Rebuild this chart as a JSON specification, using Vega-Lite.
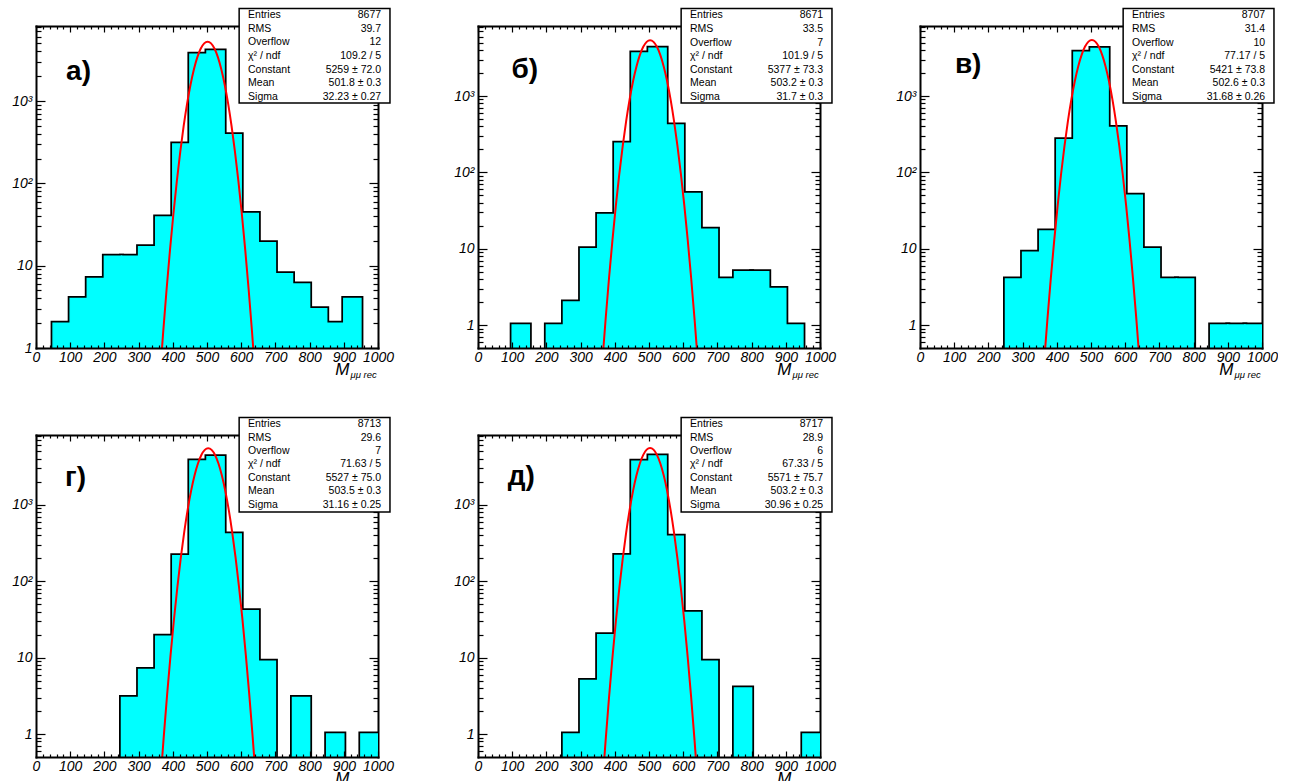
{
"$schema": "https://vega.github.io/schema/vega-lite/v6.json",
"background": "white",
"padding": {"left": 11, "top": 7, "right": 0, "bottom": 0},
"columns": 3,
"spacing": {"row": 87, "column": 100},
"bounds": "flush",
"config": {
  "view": {"stroke": null},
  "font": "Liberation Sans",
  "axis": {"grid": false, "domain": false, "labels": false, "tickColor": "black", "tickWidth": 1.2, "labelFont": "Liberation Sans", "labelFontSize": 14, "labelFontStyle": "italic", "labelColor": "black", "labelFlush": false, "labelOverlap": false, "domainColor": "black", "domainWidth": 2, "domainCap": "square", "titleFont": "Liberation Sans", "titleColor": "black", "titleFontWeight": "normal", "titleFontStyle": "italic"}
},
"datasets": {
"h": [
{"p":"a","lo":50,"hi":100,"n":2},{"p":"a","lo":100,"hi":150,"n":4},{"p":"a","lo":150,"hi":200,"n":7},{"p":"a","lo":200,"hi":250,"n":13},{"p":"a","lo":250,"hi":300,"n":13},{"p":"a","lo":300,"hi":350,"n":17},{"p":"a","lo":350,"hi":400,"n":39},{"p":"a","lo":400,"hi":450,"n":300},{"p":"a","lo":450,"hi":500,"n":3700},{"p":"a","lo":500,"hi":550,"n":4050},{"p":"a","lo":550,"hi":600,"n":390},{"p":"a","lo":600,"hi":650,"n":43},{"p":"a","lo":650,"hi":700,"n":19},{"p":"a","lo":700,"hi":750,"n":8},{"p":"a","lo":750,"hi":800,"n":6},{"p":"a","lo":800,"hi":850,"n":3},{"p":"a","lo":850,"hi":900,"n":2},{"p":"a","lo":900,"hi":950,"n":4},
{"p":"b","lo":100,"hi":150,"n":1},{"p":"b","lo":200,"hi":250,"n":1},{"p":"b","lo":250,"hi":300,"n":2},{"p":"b","lo":300,"hi":350,"n":10},{"p":"b","lo":350,"hi":400,"n":28},{"p":"b","lo":400,"hi":450,"n":240},{"p":"b","lo":450,"hi":500,"n":3660},{"p":"b","lo":500,"hi":550,"n":4210},{"p":"b","lo":550,"hi":600,"n":417},{"p":"b","lo":600,"hi":650,"n":53},{"p":"b","lo":650,"hi":700,"n":18},{"p":"b","lo":700,"hi":750,"n":4},{"p":"b","lo":750,"hi":800,"n":5},{"p":"b","lo":800,"hi":850,"n":5},{"p":"b","lo":850,"hi":900,"n":3},{"p":"b","lo":900,"hi":950,"n":1},
{"p":"c","lo":250,"hi":300,"n":4},{"p":"c","lo":300,"hi":350,"n":9},{"p":"c","lo":350,"hi":400,"n":17},{"p":"c","lo":400,"hi":450,"n":268},{"p":"c","lo":450,"hi":500,"n":3750},{"p":"c","lo":500,"hi":550,"n":4200},{"p":"c","lo":550,"hi":600,"n":388},{"p":"c","lo":600,"hi":650,"n":50},{"p":"c","lo":650,"hi":700,"n":10},{"p":"c","lo":700,"hi":750,"n":4},{"p":"c","lo":750,"hi":800,"n":4},{"p":"c","lo":850,"hi":900,"n":1},{"p":"c","lo":900,"hi":950,"n":1},{"p":"c","lo":950,"hi":1000,"n":1},
{"p":"d","lo":250,"hi":300,"n":3},{"p":"d","lo":300,"hi":350,"n":7},{"p":"d","lo":350,"hi":400,"n":19},{"p":"d","lo":400,"hi":450,"n":215},{"p":"d","lo":450,"hi":500,"n":3750},{"p":"d","lo":500,"hi":550,"n":4260},{"p":"d","lo":550,"hi":600,"n":415},{"p":"d","lo":600,"hi":650,"n":41},{"p":"d","lo":650,"hi":700,"n":9},{"p":"d","lo":750,"hi":800,"n":3},{"p":"d","lo":850,"hi":900,"n":1},{"p":"d","lo":950,"hi":1000,"n":1},
{"p":"e","lo":250,"hi":300,"n":1},{"p":"e","lo":300,"hi":350,"n":5},{"p":"e","lo":350,"hi":400,"n":20},{"p":"e","lo":400,"hi":450,"n":218},{"p":"e","lo":450,"hi":500,"n":3730},{"p":"e","lo":500,"hi":550,"n":4350},{"p":"e","lo":550,"hi":600,"n":387},{"p":"e","lo":600,"hi":650,"n":39},{"p":"e","lo":650,"hi":700,"n":9},{"p":"e","lo":750,"hi":800,"n":4},{"p":"e","lo":950,"hi":1000,"n":1}
],
"fit": [
{"p":"a","m":351.8,"f":0.1041},{"p":"a","m":361.8,"f":0.4205},{"p":"a","m":371.8,"f":1.542},{"p":"a","m":381.8,"f":5.137},{"p":"a","m":391.8,"f":15.54},{"p":"a","m":401.8,"f":42.71},{"p":"a","m":411.8,"f":106.6},{"p":"a","m":421.8,"f":241.6},{"p":"a","m":431.8,"f":497.3},{"p":"a","m":441.8,"f":929.8},{"p":"a","m":451.8,"f":1579},{"p":"a","m":461.8,"f":2434},{"p":"a","m":471.8,"f":3410},{"p":"a","m":481.8,"f":4338},{"p":"a","m":491.8,"f":5012},{"p":"a","m":501.8,"f":5259},{"p":"a","m":511.8,"f":5012},{"p":"a","m":521.8,"f":4338},{"p":"a","m":531.8,"f":3410},{"p":"a","m":541.8,"f":2434},{"p":"a","m":551.8,"f":1579},{"p":"a","m":561.8,"f":929.8},{"p":"a","m":571.8,"f":497.3},{"p":"a","m":581.8,"f":241.6},{"p":"a","m":591.8,"f":106.6},{"p":"a","m":601.8,"f":42.71},{"p":"a","m":611.8,"f":15.54},{"p":"a","m":621.8,"f":5.137},{"p":"a","m":631.8,"f":1.542},{"p":"a","m":641.8,"f":0.4205},{"p":"a","m":651.8,"f":0.1041},
{"p":"b","m":353.2,"f":0.0739},{"p":"b","m":363.2,"f":0.3128},{"p":"b","m":373.2,"f":1.198},{"p":"b","m":383.2,"f":4.157},{"p":"b","m":393.2,"f":13.06},{"p":"b","m":403.2,"f":37.12},{"p":"b","m":413.2,"f":95.55},{"p":"b","m":423.2,"f":222.6},{"p":"b","m":433.2,"f":469.6},{"p":"b","m":443.2,"f":896.8},{"p":"b","m":453.2,"f":1550},{"p":"b","m":463.2,"f":2425},{"p":"b","m":473.2,"f":3436},{"p":"b","m":483.2,"f":4407},{"p":"b","m":493.2,"f":5116},{"p":"b","m":503.2,"f":5377},{"p":"b","m":513.2,"f":5116},{"p":"b","m":523.2,"f":4407},{"p":"b","m":533.2,"f":3436},{"p":"b","m":543.2,"f":2425},{"p":"b","m":553.2,"f":1550},{"p":"b","m":563.2,"f":896.8},{"p":"b","m":573.2,"f":469.6},{"p":"b","m":583.2,"f":222.6},{"p":"b","m":593.2,"f":95.55},{"p":"b","m":603.2,"f":37.12},{"p":"b","m":613.2,"f":13.06},{"p":"b","m":623.2,"f":4.157},{"p":"b","m":633.2,"f":1.198},{"p":"b","m":643.2,"f":0.3128},{"p":"b","m":653.2,"f":0.0739},
{"p":"c","m":352.6,"f":0.0734},{"p":"c","m":362.6,"f":0.3114},{"p":"c","m":372.6,"f":1.195},{"p":"c","m":382.6,"f":4.153},{"p":"c","m":392.6,"f":13.06},{"p":"c","m":402.6,"f":37.19},{"p":"c","m":412.6,"f":95.83},{"p":"c","m":422.6,"f":223.5},{"p":"c","m":432.6,"f":471.9},{"p":"c","m":442.6,"f":901.9},{"p":"c","m":452.6,"f":1560},{"p":"c","m":462.6,"f":2443},{"p":"c","m":472.6,"f":3462},{"p":"c","m":482.6,"f":4442},{"p":"c","m":492.6,"f":5157},{"p":"c","m":502.6,"f":5421},{"p":"c","m":512.6,"f":5157},{"p":"c","m":522.6,"f":4442},{"p":"c","m":532.6,"f":3462},{"p":"c","m":542.6,"f":2443},{"p":"c","m":552.6,"f":1560},{"p":"c","m":562.6,"f":901.9},{"p":"c","m":572.6,"f":471.9},{"p":"c","m":582.6,"f":223.5},{"p":"c","m":592.6,"f":95.83},{"p":"c","m":602.6,"f":37.19},{"p":"c","m":612.6,"f":13.06},{"p":"c","m":622.6,"f":4.153},{"p":"c","m":632.6,"f":1.195},{"p":"c","m":642.6,"f":0.3114},{"p":"c","m":652.6,"f":0.0734},
{"p":"d","m":353.5,"f":0.0513},{"p":"d","m":363.5,"f":0.2286},{"p":"d","m":373.5,"f":0.9182},{"p":"d","m":383.5,"f":3.327},{"p":"d","m":393.5,"f":10.87},{"p":"d","m":403.5,"f":32.07},{"p":"d","m":413.5,"f":85.3},{"p":"d","m":423.5,"f":204.7},{"p":"d","m":433.5,"f":443.2},{"p":"d","m":443.5,"f":865.7},{"p":"d","m":453.5,"f":1525},{"p":"d","m":463.5,"f":2425},{"p":"d","m":473.5,"f":3477},{"p":"d","m":483.5,"f":4498},{"p":"d","m":493.5,"f":5250},{"p":"d","m":503.5,"f":5527},{"p":"d","m":513.5,"f":5250},{"p":"d","m":523.5,"f":4498},{"p":"d","m":533.5,"f":3477},{"p":"d","m":543.5,"f":2425},{"p":"d","m":553.5,"f":1525},{"p":"d","m":563.5,"f":865.7},{"p":"d","m":573.5,"f":443.2},{"p":"d","m":583.5,"f":204.7},{"p":"d","m":593.5,"f":85.3},{"p":"d","m":603.5,"f":32.07},{"p":"d","m":613.5,"f":10.87},{"p":"d","m":623.5,"f":3.327},{"p":"d","m":633.5,"f":0.9182},{"p":"d","m":643.5,"f":0.2286},{"p":"d","m":653.5,"f":0.0513},
{"p":"e","m":353.2,"f":0.0445},{"p":"e","m":363.2,"f":0.2021},{"p":"e","m":373.2,"f":0.8267},{"p":"e","m":383.2,"f":3.046},{"p":"e","m":393.2,"f":10.11},{"p":"e","m":403.2,"f":30.23},{"p":"e","m":413.2,"f":81.45},{"p":"e","m":423.2,"f":197.7},{"p":"e","m":433.2,"f":432.4},{"p":"e","m":443.2,"f":851.9},{"p":"e","m":453.2,"f":1512},{"p":"e","m":463.2,"f":2418},{"p":"e","m":473.2,"f":3484},{"p":"e","m":483.2,"f":4522},{"p":"e","m":493.2,"f":5288},{"p":"e","m":503.2,"f":5571},{"p":"e","m":513.2,"f":5288},{"p":"e","m":523.2,"f":4522},{"p":"e","m":533.2,"f":3484},{"p":"e","m":543.2,"f":2418},{"p":"e","m":553.2,"f":1512},{"p":"e","m":563.2,"f":851.9},{"p":"e","m":573.2,"f":432.4},{"p":"e","m":583.2,"f":197.7},{"p":"e","m":593.2,"f":81.45},{"p":"e","m":603.2,"f":30.23},{"p":"e","m":613.2,"f":10.11},{"p":"e","m":623.2,"f":3.046},{"p":"e","m":633.2,"f":0.8267},{"p":"e","m":643.2,"f":0.2021},{"p":"e","m":653.2,"f":0.0445}
],
"stats": [
{"p":"a","lab":"а)","names":"Entries\nRMS\nOverflow\nχ² / ndf\nConstant\nMean\nSigma","vals":"8677\n39.7\n12\n109.2 / 5\n5259 ± 72.0\n501.8 ± 0.3\n32.23 ± 0.27"},
{"p":"b","lab":"б)","names":"Entries\nRMS\nOverflow\nχ² / ndf\nConstant\nMean\nSigma","vals":"8671\n33.5\n7\n101.9 / 5\n5377 ± 73.3\n503.2 ± 0.3\n31.7 ± 0.3"},
{"p":"c","lab":"в)","names":"Entries\nRMS\nOverflow\nχ² / ndf\nConstant\nMean\nSigma","vals":"8707\n31.4\n10\n77.17 / 5\n5421 ± 73.8\n502.6 ± 0.3\n31.68 ± 0.26"},
{"p":"d","lab":"г)","names":"Entries\nRMS\nOverflow\nχ² / ndf\nConstant\nMean\nSigma","vals":"8713\n29.6\n7\n71.63 / 5\n5527 ± 75.0\n503.5 ± 0.3\n31.16 ± 0.25"},
{"p":"e","lab":"д)","names":"Entries\nRMS\nOverflow\nχ² / ndf\nConstant\nMean\nSigma","vals":"8717\n28.9\n6\n67.33 / 5\n5571 ± 75.7\n503.2 ± 0.3\n30.96 ± 0.25"}
]
},
"concat": [
{"width": 342, "height": 322, "resolve": {"axis": {"x": "independent", "y": "independent"}},
 "layer": [
  {"data": {"name": "h"}, "transform": [{"filter": "datum.p == 'a'"}], "mark": {"type": "rect", "fill": "#00FFFF", "stroke": "black", "strokeWidth": 5, "clip": true},
   "encoding": {
    "x": {"field": "lo", "type": "quantitative", "scale": {"domain": [0, 1000], "nice": false, "zero": false}, "axis": {"orient": "bottom", "values": [0,100,200,300,400,500,600,700,800,900,1000], "format": "d", "tickSize": -6, "labels": true, "labelPadding": 8, "domain": true, "zindex": 1, "title": "M", "titleFontSize": 17, "titleAlign": "right", "titleBaseline": "alphabetic", "titleX": 313, "titleY": 26}},
    "x2": {"field": "hi"},
    "y": {"field": "n", "type": "quantitative", "scale": {"type": "log", "domain": [1, 8150], "nice": false}, "axis": {"orient": "left", "values": [1,10,100,1000], "tickSize": -9, "labels": true, "labelPadding": 13, "labelExpr": "datum.value == 1 ? '1' : datum.value == 10 ? '10' : datum.value == 100 ? '10²' : '10³'", "domain": true, "zindex": 1, "title": null}},
    "y2": {"datum": 1}
   }},
  {"data": {"name": "h"}, "transform": [{"filter": "datum.p == 'a'"}], "mark": {"type": "rect", "fill": "#00FFFF", "stroke": "#00FFFF", "strokeWidth": 1.5, "clip": true},
   "encoding": {
    "x": {"field": "lo", "type": "quantitative", "axis": {"orient": "bottom", "values": [20,40,60,80,120,140,160,180,220,240,260,280,320,340,360,380,420,440,460,480,520,540,560,580,620,640,660,680,720,740,760,780,820,840,860,880,920,940,960,980], "tickSize": -3, "zindex": 1, "title": "μμ rec", "titleFontSize": 9.5, "titleAlign": "left", "titleBaseline": "alphabetic", "titleX": 314, "titleY": 29}},
    "x2": {"field": "hi"},
    "y": {"field": "n", "type": "quantitative", "axis": {"orient": "left", "values": [2,3,4,5,6,7,8,9,20,30,40,50,60,70,80,90,200,300,400,500,600,700,800,900,2000,3000,4000,5000,6000,7000,8000], "tickSize": -5, "zindex": 1, "title": null}},
    "y2": {"datum": 1}
   }},
  {"data": {"name": "fit"}, "transform": [{"filter": "datum.p == 'a'"}], "mark": {"type": "line", "color": "#FF0000", "strokeWidth": 2, "clip": true, "interpolate": "monotone"},
   "encoding": {
    "x": {"field": "m", "type": "quantitative", "axis": {"orient": "top", "values": [0,100,200,300,400,500,600,700,800,900,1000], "tickSize": -6, "domain": true, "zindex": 0, "title": null}},
    "y": {"field": "f", "type": "quantitative", "axis": {"orient": "right", "values": [1,10,100,1000], "tickSize": -9, "domain": true, "zindex": 0, "title": null}}
   }},
  {"data": {"name": "stats"}, "transform": [{"filter": "datum.p == 'a'"}], "mark": {"type": "rect", "fill": "white", "stroke": "black", "strokeWidth": 1.5},
   "encoding": {
    "x": {"datum": 594, "type": "quantitative", "axis": {"orient": "top", "values": [20,40,60,80,120,140,160,180,220,240,260,280,320,340,360,380,420,440,460,480,520,540,560,580,620,640,660,680,720,740,760,780,820,840,860,880,920,940,960,980], "tickSize": -3, "zindex": 0, "title": null}},
    "x2": {"datum": 1035},
    "y": {"datum": 13300, "type": "quantitative", "axis": {"orient": "right", "values": [2,3,4,5,6,7,8,9,20,30,40,50,60,70,80,90,200,300,400,500,600,700,800,900,2000,3000,4000,5000,6000,7000,8000], "tickSize": -5, "zindex": 0, "title": null}},
    "y2": {"datum": 946}
   }},
  {"data": {"name": "stats"}, "transform": [{"filter": "datum.p == 'a'"}], "mark": {"type": "text", "align": "left", "baseline": "middle", "fontSize": 10.5, "lineHeight": 13.6, "lineBreak": "\n", "color": "black"},
   "encoding": {"x": {"datum": 620, "type": "quantitative", "axis": null}, "y": {"datum": 10990, "type": "quantitative", "axis": null}, "text": {"field": "names"}}},
  {"data": {"name": "stats"}, "transform": [{"filter": "datum.p == 'a'"}], "mark": {"type": "text", "align": "right", "baseline": "middle", "fontSize": 10.5, "lineHeight": 13.6, "lineBreak": "\n", "color": "black"},
   "encoding": {"x": {"datum": 1009, "type": "quantitative", "axis": null}, "y": {"datum": 10990, "type": "quantitative", "axis": null}, "text": {"field": "vals"}}},
  {"data": {"name": "stats"}, "transform": [{"filter": "datum.p == 'a'"}], "mark": {"type": "text", "align": "left", "baseline": "alphabetic", "fontSize": 28, "fontWeight": "bold", "color": "black"},
   "encoding": {"x": {"datum": 88, "type": "quantitative", "axis": null}, "y": {"datum": 1800, "type": "quantitative", "axis": null}, "text": {"field": "lab"}}}
 ]},
{"width": 342, "height": 322, "resolve": {"axis": {"x": "independent", "y": "independent"}},
 "layer": [
  {"data": {"name": "h"}, "transform": [{"filter": "datum.p == 'b'"}], "mark": {"type": "rect", "fill": "#00FFFF", "stroke": "black", "strokeWidth": 5, "clip": true},
   "encoding": {
    "x": {"field": "lo", "type": "quantitative", "scale": {"domain": [0, 1000], "nice": false, "zero": false}, "axis": {"orient": "bottom", "values": [0,100,200,300,400,500,600,700,800,900,1000], "format": "d", "tickSize": -6, "labels": true, "labelPadding": 8, "domain": true, "zindex": 1, "title": "M", "titleFontSize": 17, "titleAlign": "right", "titleBaseline": "alphabetic", "titleX": 313, "titleY": 26}},
    "x2": {"field": "hi"},
    "y": {"field": "n", "type": "quantitative", "scale": {"type": "log", "domain": [0.5, 8260], "nice": false}, "axis": {"orient": "left", "values": [1,10,100,1000], "tickSize": -9, "labels": true, "labelPadding": 13, "labelExpr": "datum.value == 1 ? '1' : datum.value == 10 ? '10' : datum.value == 100 ? '10²' : '10³'", "domain": true, "zindex": 1, "title": null}},
    "y2": {"datum": 0.5}
   }},
  {"data": {"name": "h"}, "transform": [{"filter": "datum.p == 'b'"}], "mark": {"type": "rect", "fill": "#00FFFF", "stroke": "#00FFFF", "strokeWidth": 1.5, "clip": true},
   "encoding": {
    "x": {"field": "lo", "type": "quantitative", "axis": {"orient": "bottom", "values": [20,40,60,80,120,140,160,180,220,240,260,280,320,340,360,380,420,440,460,480,520,540,560,580,620,640,660,680,720,740,760,780,820,840,860,880,920,940,960,980], "tickSize": -3, "zindex": 1, "title": "μμ rec", "titleFontSize": 9.5, "titleAlign": "left", "titleBaseline": "alphabetic", "titleX": 314, "titleY": 29}},
    "x2": {"field": "hi"},
    "y": {"field": "n", "type": "quantitative", "axis": {"orient": "left", "values": [0.6,0.7,0.8,0.9,2,3,4,5,6,7,8,9,20,30,40,50,60,70,80,90,200,300,400,500,600,700,800,900,2000,3000,4000,5000,6000,7000,8000], "tickSize": -5, "zindex": 1, "title": null}},
    "y2": {"datum": 0.5}
   }},
  {"data": {"name": "fit"}, "transform": [{"filter": "datum.p == 'b'"}], "mark": {"type": "line", "color": "#FF0000", "strokeWidth": 2, "clip": true, "interpolate": "monotone"},
   "encoding": {
    "x": {"field": "m", "type": "quantitative", "axis": {"orient": "top", "values": [0,100,200,300,400,500,600,700,800,900,1000], "tickSize": -6, "domain": true, "zindex": 0, "title": null}},
    "y": {"field": "f", "type": "quantitative", "axis": {"orient": "right", "values": [1,10,100,1000], "tickSize": -9, "domain": true, "zindex": 0, "title": null}}
   }},
  {"data": {"name": "stats"}, "transform": [{"filter": "datum.p == 'b'"}], "mark": {"type": "rect", "fill": "white", "stroke": "black", "strokeWidth": 1.5},
   "encoding": {
    "x": {"datum": 594, "type": "quantitative", "axis": {"orient": "top", "values": [20,40,60,80,120,140,160,180,220,240,260,280,320,340,360,380,420,440,460,480,520,540,560,580,620,640,660,680,720,740,760,780,820,840,860,880,920,940,960,980], "tickSize": -3, "zindex": 0, "title": null}},
    "x2": {"datum": 1035},
    "y": {"datum": 14000, "type": "quantitative", "axis": {"orient": "right", "values": [0.6,0.7,0.8,0.9,2,3,4,5,6,7,8,9,20,30,40,50,60,70,80,90,200,300,400,500,600,700,800,900,2000,3000,4000,5000,6000,7000,8000], "tickSize": -5, "zindex": 0, "title": null}},
    "y2": {"datum": 809.5}
   }},
  {"data": {"name": "stats"}, "transform": [{"filter": "datum.p == 'b'"}], "mark": {"type": "text", "align": "left", "baseline": "middle", "fontSize": 10.5, "lineHeight": 13.6, "lineBreak": "\n", "color": "black"},
   "encoding": {"x": {"datum": 620, "type": "quantitative", "axis": null}, "y": {"datum": 11400, "type": "quantitative", "axis": null}, "text": {"field": "names"}}},
  {"data": {"name": "stats"}, "transform": [{"filter": "datum.p == 'b'"}], "mark": {"type": "text", "align": "right", "baseline": "middle", "fontSize": 10.5, "lineHeight": 13.6, "lineBreak": "\n", "color": "black"},
   "encoding": {"x": {"datum": 1009, "type": "quantitative", "axis": null}, "y": {"datum": 11400, "type": "quantitative", "axis": null}, "text": {"field": "vals"}}},
  {"data": {"name": "stats"}, "transform": [{"filter": "datum.p == 'b'"}], "mark": {"type": "text", "align": "left", "baseline": "alphabetic", "fontSize": 28, "fontWeight": "bold", "color": "black"},
   "encoding": {"x": {"datum": 98, "type": "quantitative", "axis": null}, "y": {"datum": 1721, "type": "quantitative", "axis": null}, "text": {"field": "lab"}}}
 ]},
{"width": 342, "height": 322, "resolve": {"axis": {"x": "independent", "y": "independent"}},
 "layer": [
  {"data": {"name": "h"}, "transform": [{"filter": "datum.p == 'c'"}], "mark": {"type": "rect", "fill": "#00FFFF", "stroke": "black", "strokeWidth": 5, "clip": true},
   "encoding": {
    "x": {"field": "lo", "type": "quantitative", "scale": {"domain": [0, 1000], "nice": false, "zero": false}, "axis": {"orient": "bottom", "values": [0,100,200,300,400,500,600,700,800,900,1000], "format": "d", "tickSize": -6, "labels": true, "labelPadding": 8, "domain": true, "zindex": 1, "title": "M", "titleFontSize": 17, "titleAlign": "right", "titleBaseline": "alphabetic", "titleX": 313, "titleY": 26}},
    "x2": {"field": "hi"},
    "y": {"field": "n", "type": "quantitative", "scale": {"type": "log", "domain": [0.5, 8260], "nice": false}, "axis": {"orient": "left", "values": [1,10,100,1000], "tickSize": -9, "labels": true, "labelPadding": 13, "labelExpr": "datum.value == 1 ? '1' : datum.value == 10 ? '10' : datum.value == 100 ? '10²' : '10³'", "domain": true, "zindex": 1, "title": null}},
    "y2": {"datum": 0.5}
   }},
  {"data": {"name": "h"}, "transform": [{"filter": "datum.p == 'c'"}], "mark": {"type": "rect", "fill": "#00FFFF", "stroke": "#00FFFF", "strokeWidth": 1.5, "clip": true},
   "encoding": {
    "x": {"field": "lo", "type": "quantitative", "axis": {"orient": "bottom", "values": [20,40,60,80,120,140,160,180,220,240,260,280,320,340,360,380,420,440,460,480,520,540,560,580,620,640,660,680,720,740,760,780,820,840,860,880,920,940,960,980], "tickSize": -3, "zindex": 1, "title": "μμ rec", "titleFontSize": 9.5, "titleAlign": "left", "titleBaseline": "alphabetic", "titleX": 314, "titleY": 29}},
    "x2": {"field": "hi"},
    "y": {"field": "n", "type": "quantitative", "axis": {"orient": "left", "values": [0.6,0.7,0.8,0.9,2,3,4,5,6,7,8,9,20,30,40,50,60,70,80,90,200,300,400,500,600,700,800,900,2000,3000,4000,5000,6000,7000,8000], "tickSize": -5, "zindex": 1, "title": null}},
    "y2": {"datum": 0.5}
   }},
  {"data": {"name": "fit"}, "transform": [{"filter": "datum.p == 'c'"}], "mark": {"type": "line", "color": "#FF0000", "strokeWidth": 2, "clip": true, "interpolate": "monotone"},
   "encoding": {
    "x": {"field": "m", "type": "quantitative", "axis": {"orient": "top", "values": [0,100,200,300,400,500,600,700,800,900,1000], "tickSize": -6, "domain": true, "zindex": 0, "title": null}},
    "y": {"field": "f", "type": "quantitative", "axis": {"orient": "right", "values": [1,10,100,1000], "tickSize": -9, "domain": true, "zindex": 0, "title": null}}
   }},
  {"data": {"name": "stats"}, "transform": [{"filter": "datum.p == 'c'"}], "mark": {"type": "rect", "fill": "white", "stroke": "black", "strokeWidth": 1.5},
   "encoding": {
    "x": {"datum": 594, "type": "quantitative", "axis": {"orient": "top", "values": [20,40,60,80,120,140,160,180,220,240,260,280,320,340,360,380,420,440,460,480,520,540,560,580,620,640,660,680,720,740,760,780,820,840,860,880,920,940,960,980], "tickSize": -3, "zindex": 0, "title": null}},
    "x2": {"datum": 1035},
    "y": {"datum": 14000, "type": "quantitative", "axis": {"orient": "right", "values": [0.6,0.7,0.8,0.9,2,3,4,5,6,7,8,9,20,30,40,50,60,70,80,90,200,300,400,500,600,700,800,900,2000,3000,4000,5000,6000,7000,8000], "tickSize": -5, "zindex": 0, "title": null}},
    "y2": {"datum": 809.5}
   }},
  {"data": {"name": "stats"}, "transform": [{"filter": "datum.p == 'c'"}], "mark": {"type": "text", "align": "left", "baseline": "middle", "fontSize": 10.5, "lineHeight": 13.6, "lineBreak": "\n", "color": "black"},
   "encoding": {"x": {"datum": 620, "type": "quantitative", "axis": null}, "y": {"datum": 11400, "type": "quantitative", "axis": null}, "text": {"field": "names"}}},
  {"data": {"name": "stats"}, "transform": [{"filter": "datum.p == 'c'"}], "mark": {"type": "text", "align": "right", "baseline": "middle", "fontSize": 10.5, "lineHeight": 13.6, "lineBreak": "\n", "color": "black"},
   "encoding": {"x": {"datum": 1009, "type": "quantitative", "axis": null}, "y": {"datum": 11400, "type": "quantitative", "axis": null}, "text": {"field": "vals"}}},
  {"data": {"name": "stats"}, "transform": [{"filter": "datum.p == 'c'"}], "mark": {"type": "text", "align": "left", "baseline": "alphabetic", "fontSize": 28, "fontWeight": "bold", "color": "black"},
   "encoding": {"x": {"datum": 102, "type": "quantitative", "axis": null}, "y": {"datum": 2001, "type": "quantitative", "axis": null}, "text": {"field": "lab"}}}
 ]},
{"width": 342, "height": 322, "resolve": {"axis": {"x": "independent", "y": "independent"}},
 "layer": [
  {"data": {"name": "h"}, "transform": [{"filter": "datum.p == 'd'"}], "mark": {"type": "rect", "fill": "#00FFFF", "stroke": "black", "strokeWidth": 5, "clip": true},
   "encoding": {
    "x": {"field": "lo", "type": "quantitative", "scale": {"domain": [0, 1000], "nice": false, "zero": false}, "axis": {"orient": "bottom", "values": [0,100,200,300,400,500,600,700,800,900,1000], "format": "d", "tickSize": -6, "labels": true, "labelPadding": 8, "domain": true, "zindex": 1, "title": "M", "titleFontSize": 17, "titleAlign": "right", "titleBaseline": "alphabetic", "titleX": 313, "titleY": 26}},
    "x2": {"field": "hi"},
    "y": {"field": "n", "type": "quantitative", "scale": {"type": "log", "domain": [0.5, 8220], "nice": false}, "axis": {"orient": "left", "values": [1,10,100,1000], "tickSize": -9, "labels": true, "labelPadding": 13, "labelExpr": "datum.value == 1 ? '1' : datum.value == 10 ? '10' : datum.value == 100 ? '10²' : '10³'", "domain": true, "zindex": 1, "title": null}},
    "y2": {"datum": 0.5}
   }},
  {"data": {"name": "h"}, "transform": [{"filter": "datum.p == 'd'"}], "mark": {"type": "rect", "fill": "#00FFFF", "stroke": "#00FFFF", "strokeWidth": 1.5, "clip": true},
   "encoding": {
    "x": {"field": "lo", "type": "quantitative", "axis": {"orient": "bottom", "values": [20,40,60,80,120,140,160,180,220,240,260,280,320,340,360,380,420,440,460,480,520,540,560,580,620,640,660,680,720,740,760,780,820,840,860,880,920,940,960,980], "tickSize": -3, "zindex": 1, "title": "μμ rec", "titleFontSize": 9.5, "titleAlign": "left", "titleBaseline": "alphabetic", "titleX": 314, "titleY": 29}},
    "x2": {"field": "hi"},
    "y": {"field": "n", "type": "quantitative", "axis": {"orient": "left", "values": [0.6,0.7,0.8,0.9,2,3,4,5,6,7,8,9,20,30,40,50,60,70,80,90,200,300,400,500,600,700,800,900,2000,3000,4000,5000,6000,7000,8000], "tickSize": -5, "zindex": 1, "title": null}},
    "y2": {"datum": 0.5}
   }},
  {"data": {"name": "fit"}, "transform": [{"filter": "datum.p == 'd'"}], "mark": {"type": "line", "color": "#FF0000", "strokeWidth": 2, "clip": true, "interpolate": "monotone"},
   "encoding": {
    "x": {"field": "m", "type": "quantitative", "axis": {"orient": "top", "values": [0,100,200,300,400,500,600,700,800,900,1000], "tickSize": -6, "domain": true, "zindex": 0, "title": null}},
    "y": {"field": "f", "type": "quantitative", "axis": {"orient": "right", "values": [1,10,100,1000], "tickSize": -9, "domain": true, "zindex": 0, "title": null}}
   }},
  {"data": {"name": "stats"}, "transform": [{"filter": "datum.p == 'd'"}], "mark": {"type": "rect", "fill": "white", "stroke": "black", "strokeWidth": 1.5},
   "encoding": {
    "x": {"datum": 594, "type": "quantitative", "axis": {"orient": "top", "values": [20,40,60,80,120,140,160,180,220,240,260,280,320,340,360,380,420,440,460,480,520,540,560,580,620,640,660,680,720,740,760,780,820,840,860,880,920,940,960,980], "tickSize": -3, "zindex": 0, "title": null}},
    "x2": {"datum": 1035},
    "y": {"datum": 13930, "type": "quantitative", "axis": {"orient": "right", "values": [0.6,0.7,0.8,0.9,2,3,4,5,6,7,8,9,20,30,40,50,60,70,80,90,200,300,400,500,600,700,800,900,2000,3000,4000,5000,6000,7000,8000], "tickSize": -5, "zindex": 0, "title": null}},
    "y2": {"datum": 806.8}
   }},
  {"data": {"name": "stats"}, "transform": [{"filter": "datum.p == 'd'"}], "mark": {"type": "text", "align": "left", "baseline": "middle", "fontSize": 10.5, "lineHeight": 13.4, "lineBreak": "\n", "color": "black"},
   "encoding": {"x": {"datum": 620, "type": "quantitative", "axis": null}, "y": {"datum": 11350, "type": "quantitative", "axis": null}, "text": {"field": "names"}}},
  {"data": {"name": "stats"}, "transform": [{"filter": "datum.p == 'd'"}], "mark": {"type": "text", "align": "right", "baseline": "middle", "fontSize": 10.5, "lineHeight": 13.4, "lineBreak": "\n", "color": "black"},
   "encoding": {"x": {"datum": 1009, "type": "quantitative", "axis": null}, "y": {"datum": 11350, "type": "quantitative", "axis": null}, "text": {"field": "vals"}}},
  {"data": {"name": "stats"}, "transform": [{"filter": "datum.p == 'd'"}], "mark": {"type": "text", "align": "left", "baseline": "alphabetic", "fontSize": 28, "fontWeight": "bold", "color": "black"},
   "encoding": {"x": {"datum": 85, "type": "quantitative", "axis": null}, "y": {"datum": 1767, "type": "quantitative", "axis": null}, "text": {"field": "lab"}}}
 ]},
{"width": 342, "height": 322, "resolve": {"axis": {"x": "independent", "y": "independent"}},
 "layer": [
  {"data": {"name": "h"}, "transform": [{"filter": "datum.p == 'e'"}], "mark": {"type": "rect", "fill": "#00FFFF", "stroke": "black", "strokeWidth": 5, "clip": true},
   "encoding": {
    "x": {"field": "lo", "type": "quantitative", "scale": {"domain": [0, 1000], "nice": false, "zero": false}, "axis": {"orient": "bottom", "values": [0,100,200,300,400,500,600,700,800,900,1000], "format": "d", "tickSize": -6, "labels": true, "labelPadding": 8, "domain": true, "zindex": 1, "title": "M", "titleFontSize": 17, "titleAlign": "right", "titleBaseline": "alphabetic", "titleX": 313, "titleY": 26}},
    "x2": {"field": "hi"},
    "y": {"field": "n", "type": "quantitative", "scale": {"type": "log", "domain": [0.5, 8220], "nice": false}, "axis": {"orient": "left", "values": [1,10,100,1000], "tickSize": -9, "labels": true, "labelPadding": 13, "labelExpr": "datum.value == 1 ? '1' : datum.value == 10 ? '10' : datum.value == 100 ? '10²' : '10³'", "domain": true, "zindex": 1, "title": null}},
    "y2": {"datum": 0.5}
   }},
  {"data": {"name": "h"}, "transform": [{"filter": "datum.p == 'e'"}], "mark": {"type": "rect", "fill": "#00FFFF", "stroke": "#00FFFF", "strokeWidth": 1.5, "clip": true},
   "encoding": {
    "x": {"field": "lo", "type": "quantitative", "axis": {"orient": "bottom", "values": [20,40,60,80,120,140,160,180,220,240,260,280,320,340,360,380,420,440,460,480,520,540,560,580,620,640,660,680,720,740,760,780,820,840,860,880,920,940,960,980], "tickSize": -3, "zindex": 1, "title": "μμ rec", "titleFontSize": 9.5, "titleAlign": "left", "titleBaseline": "alphabetic", "titleX": 314, "titleY": 29}},
    "x2": {"field": "hi"},
    "y": {"field": "n", "type": "quantitative", "axis": {"orient": "left", "values": [0.6,0.7,0.8,0.9,2,3,4,5,6,7,8,9,20,30,40,50,60,70,80,90,200,300,400,500,600,700,800,900,2000,3000,4000,5000,6000,7000,8000], "tickSize": -5, "zindex": 1, "title": null}},
    "y2": {"datum": 0.5}
   }},
  {"data": {"name": "fit"}, "transform": [{"filter": "datum.p == 'e'"}], "mark": {"type": "line", "color": "#FF0000", "strokeWidth": 2, "clip": true, "interpolate": "monotone"},
   "encoding": {
    "x": {"field": "m", "type": "quantitative", "axis": {"orient": "top", "values": [0,100,200,300,400,500,600,700,800,900,1000], "tickSize": -6, "domain": true, "zindex": 0, "title": null}},
    "y": {"field": "f", "type": "quantitative", "axis": {"orient": "right", "values": [1,10,100,1000], "tickSize": -9, "domain": true, "zindex": 0, "title": null}}
   }},
  {"data": {"name": "stats"}, "transform": [{"filter": "datum.p == 'e'"}], "mark": {"type": "rect", "fill": "white", "stroke": "black", "strokeWidth": 1.5},
   "encoding": {
    "x": {"datum": 594, "type": "quantitative", "axis": {"orient": "top", "values": [20,40,60,80,120,140,160,180,220,240,260,280,320,340,360,380,420,440,460,480,520,540,560,580,620,640,660,680,720,740,760,780,820,840,860,880,920,940,960,980], "tickSize": -3, "zindex": 0, "title": null}},
    "x2": {"datum": 1035},
    "y": {"datum": 13930, "type": "quantitative", "axis": {"orient": "right", "values": [0.6,0.7,0.8,0.9,2,3,4,5,6,7,8,9,20,30,40,50,60,70,80,90,200,300,400,500,600,700,800,900,2000,3000,4000,5000,6000,7000,8000], "tickSize": -5, "zindex": 0, "title": null}},
    "y2": {"datum": 806.8}
   }},
  {"data": {"name": "stats"}, "transform": [{"filter": "datum.p == 'e'"}], "mark": {"type": "text", "align": "left", "baseline": "middle", "fontSize": 10.5, "lineHeight": 13.4, "lineBreak": "\n", "color": "black"},
   "encoding": {"x": {"datum": 620, "type": "quantitative", "axis": null}, "y": {"datum": 11350, "type": "quantitative", "axis": null}, "text": {"field": "names"}}},
  {"data": {"name": "stats"}, "transform": [{"filter": "datum.p == 'e'"}], "mark": {"type": "text", "align": "right", "baseline": "middle", "fontSize": 10.5, "lineHeight": 13.4, "lineBreak": "\n", "color": "black"},
   "encoding": {"x": {"datum": 1009, "type": "quantitative", "axis": null}, "y": {"datum": 11350, "type": "quantitative", "axis": null}, "text": {"field": "vals"}}},
  {"data": {"name": "stats"}, "transform": [{"filter": "datum.p == 'e'"}], "mark": {"type": "text", "align": "left", "baseline": "alphabetic", "fontSize": 28, "fontWeight": "bold", "color": "black"},
   "encoding": {"x": {"datum": 87, "type": "quantitative", "axis": null}, "y": {"datum": 1821, "type": "quantitative", "axis": null}, "text": {"field": "lab"}}}
 ]}
]
}
